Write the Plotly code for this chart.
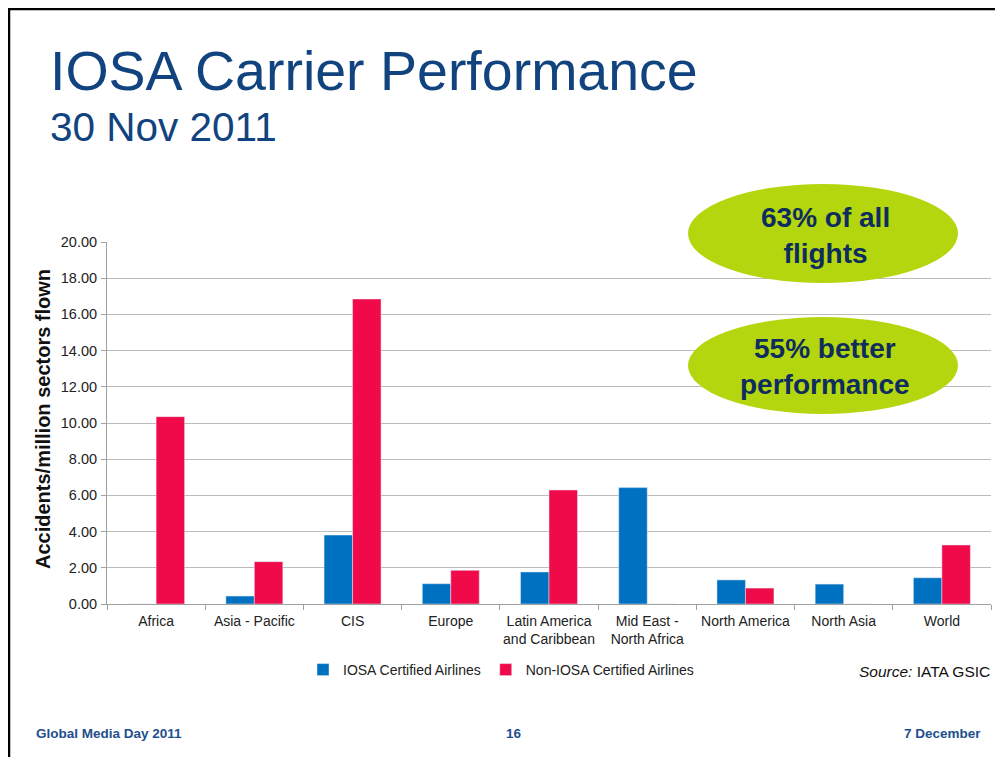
import plotly.graph_objects as go

categories = ["Africa", "Asia - Pacific", "CIS", "Europe",
              "Latin America<br>and Caribbean", "Mid East -<br>North Africa",
              "North America", "North Asia", "World"]
iosa = [0.0, 0.44, 3.81, 1.12, 1.77, 6.43, 1.33, 1.10, 1.45]
non_iosa = [10.35, 2.34, 16.85, 1.86, 6.30, 0.0, 0.88, 0.0, 3.26]
series_names = ["IOSA Certified Airlines", "Non-IOSA Certified Airlines"]
y_ticks = [0, 2, 4, 6, 8, 10, 12, 14, 16, 18, 20]

FONT = "Liberation Sans, Arial, sans-serif"
BLUE = "#0070c0"
RED = "#f00a4a"
NAVY = "#11437f"
DARK = "#0e2d5e"
GREEN = "#b4d60e"

# page offset from the browser's default body margin
O = 8
# plot area in page pixels
L, R, T, B = 107, 991, 242, 604
W, H = 1003 - O, 757 - O


def px(x):
    return (x - L) / (R - L)


def py(y):
    return (B - y) / (B - T)


fig = go.Figure()
fig.add_trace(go.Bar(x=categories, y=iosa, name=series_names[0], marker_color=BLUE))
fig.add_trace(go.Bar(x=categories, y=non_iosa, name=series_names[1], marker_color=RED))

fig.update_layout(
    width=W, height=H,
    margin=dict(l=L - O, r=W - (R - O), t=T - O, b=H - (B - O)),
    paper_bgcolor="white", plot_bgcolor="white",
    barmode="group", bargap=0.42, bargroupgap=0,
    font=dict(family=FONT, color="#222222"),
    showlegend=True,
    legend=dict(orientation="h", x=px(303), xanchor="left", y=py(670), yanchor="middle",
                font=dict(size=14, color="#222222", family=FONT), bgcolor="rgba(0,0,0,0)"),
)
fig.update_xaxes(
    type="category", tickson="boundaries", ticks="outside", ticklen=5, tickangle=0,
    ticklabelstandoff=4,
    tickcolor="#a0a0a0", showline=True, linecolor="#a0a0a0", linewidth=1,
    tickfont=dict(size=14, color="#222222", family=FONT), showgrid=False,
)
fig.update_yaxes(
    range=[0, 20], tickvals=y_ticks, tickformat=".2f", ticks="outside", ticklen=5,
    ticklabelstandoff=1,
    tickcolor="#a0a0a0", showline=True, linecolor="#a0a0a0", linewidth=1,
    gridcolor="#bcbcbc", gridwidth=1.2, zeroline=False,
    tickfont=dict(size=14.5, color="#222222", family=FONT),
)

shapes = [
    dict(type="circle", xref="paper", yref="paper", x0=px(688), x1=px(958), y0=py(283), y1=py(184),
         fillcolor=GREEN, line=dict(width=0), layer="above"),
    dict(type="circle", xref="paper", yref="paper", x0=px(688), x1=px(958), y0=py(414), y1=py(317),
         fillcolor=GREEN, line=dict(width=0), layer="above"),
    dict(type="line", xref="paper", yref="paper", x0=px(O), x1=px(1003), y0=py(O + 1), y1=py(O + 1),
         line=dict(color="black", width=2.5), layer="above"),
    dict(type="line", xref="paper", yref="paper", x0=px(O + 1), x1=px(O + 1), y0=py(O), y1=py(757),
         line=dict(color="black", width=2.5), layer="above"),
]
fig.update_layout(shapes=shapes)

annotations = [
    dict(text="IOSA Carrier Performance", x=px(48), y=py(71), xanchor="left", yanchor="middle",
         font=dict(size=55.5, color=NAVY, family=FONT)),
    dict(text="30 Nov 2011", x=px(48), y=py(127), xanchor="left", yanchor="middle",
         font=dict(size=40.5, color=NAVY, family=FONT)),
    dict(text="<b>Accidents/million sectors flown</b>", x=px(43), y=py(419), textangle=-90,
         xanchor="center", yanchor="middle", font=dict(size=20, color="#111111", family=FONT)),
    dict(text="<b>63% of all<br>flights</b>", x=px(825), y=py(235), xanchor="center", yanchor="middle",
         font=dict(size=28, color=DARK, family=FONT)),
    dict(text="<b>55% better<br>performance</b>", x=px(825), y=py(366), xanchor="center", yanchor="middle",
         font=dict(size=28, color=DARK, family=FONT)),
    dict(text="<i>Source:</i> IATA GSIC", x=px(992), y=py(671), xanchor="right", yanchor="middle",
         font=dict(size=15.5, color="#111111", family=FONT)),
    dict(text="<b>Global Media Day 2011</b>", x=px(34), y=py(733), xanchor="left", yanchor="middle",
         font=dict(size=13.5, color="#234f8e", family=FONT)),
    dict(text="<b>16</b>", x=px(514), y=py(733), xanchor="center", yanchor="middle",
         font=dict(size=13.5, color="#234f8e", family=FONT)),
    dict(text="<b>7 December</b>", x=px(983), y=py(733), xanchor="right", yanchor="middle",
         font=dict(size=13.5, color="#234f8e", family=FONT)),
]
for a in annotations:
    a.update(xref="paper", yref="paper", showarrow=False)
fig.update_layout(annotations=annotations)

fig.write_html("out.html")
